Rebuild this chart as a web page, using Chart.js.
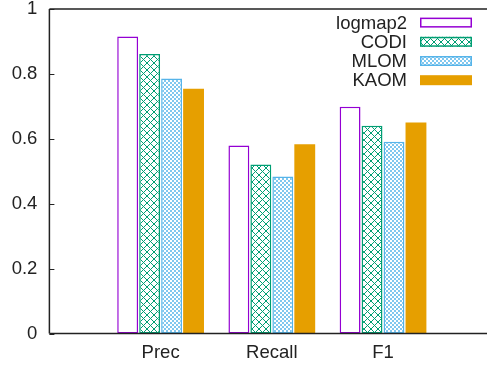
<!DOCTYPE html>
<html>
<head>
<meta charset="utf-8">
<script src="https://cdn.jsdelivr.net/npm/chart.js@4.4.1/dist/chart.umd.min.js"></script>
<style>
  html, body { margin: 0; padding: 0; background: #fff; }
  #wrap { width: 487px; height: 367px; }
</style>
</head>
<body>
<div id="wrap"><canvas id="chart" width="487" height="367"></canvas></div>
<script>
var categories = ['Prec', 'Recall', 'F1'];
var seriesNames = ['logmap2', 'CODI', 'MLOM', 'KAOM'];
var logmap2 = [0.915, 0.579, 0.699];
var codi = [0.861, 0.521, 0.640];
var mlom = [0.786, 0.484, 0.591];
var kaom = [0.754, 0.583, 0.650];
var yTicks = [0, 0.2, 0.4, 0.6, 0.8, 1];

var FONT = '"Liberation Sans", Arial, sans-serif';
var INK = '#222';

function $each(arr, fn) { for (var i = 0; i < arr.length; i++) fn(arr[i], i); }

function crossPattern(color) {
    var c = document.createElement('canvas');
    c.width = 7; c.height = 7;
    var g = c.getContext('2d');
    g.fillStyle = '#fff';
    g.fillRect(0, 0, 7, 7);
    g.strokeStyle = color;
    g.lineWidth = 1;
    g.beginPath();
    g.moveTo(0, 0); g.lineTo(7, 7);
    g.moveTo(7, 0); g.lineTo(0, 7);
    g.stroke();
    return g.createPattern(c, 'repeat');
}

function checkerPattern(color) {
    var c = document.createElement('canvas');
    c.width = 4; c.height = 4;
    var g = c.getContext('2d');
    g.fillStyle = '#fff';
    g.fillRect(0, 0, 4, 4);
    g.fillStyle = color;
    g.globalAlpha = 0.75;
    g.fillRect(0, 0, 2, 2);
    g.fillRect(2, 2, 2, 2);
    return g.createPattern(c, 'repeat');
}

function points(vals) {
    return vals.map(function(v, i) { return { x: i + 1, y: v }; });
}

// frame lines on top of the bars, inward y ticks and the key in the top right
var framePlugin = {
    id: 'frame',
    afterDraw: function(chart) {
        var ctx = chart.ctx, a = chart.chartArea, ys = chart.scales.y;
        ctx.save();
        ctx.strokeStyle = INK;
        ctx.lineWidth = 1.5;
        ctx.beginPath();
        ctx.moveTo(a.left, a.top);
        ctx.lineTo(a.right, a.top);
        ctx.moveTo(a.left, a.bottom);
        ctx.lineTo(a.right, a.bottom);
        ctx.moveTo(a.left, a.top);
        ctx.lineTo(a.left, a.bottom);
        ctx.stroke();
        ctx.lineWidth = 1;
        $each(yTicks, function(t) {
            var py = Math.round(ys.getPixelForValue(t)) + 0.5;
            ctx.beginPath();
            ctx.moveTo(a.left, py);
            ctx.lineTo(a.left + 5, py);
            ctx.stroke();
        });

        ctx.font = '18.5px ' + FONT;
        ctx.textAlign = 'right';
        ctx.textBaseline = 'middle';
        $each(chart.data.datasets, function(ds, i) {
            var cy = 22.6 + i * 19.2;
            ctx.fillStyle = INK;
            ctx.fillText(ds.label, 407, cy + 1);
            ctx.fillStyle = ds.backgroundColor;
            ctx.fillRect(420, cy - 5, 52, 10);
            if (ds.borderWidth > 0) {
                ctx.strokeStyle = ds.borderColor;
                ctx.lineWidth = ds.borderWidth;
                ctx.strokeRect(420.75, cy - 4.25, 50.5, 8.5);
            }
        });
        ctx.restore();
    }
};

var ctx = document.getElementById('chart').getContext('2d');
var colors = ['#9400D3', '#009E73', '#56B4E9', '#E69F00'];
var fills = ['#ffffff', crossPattern(colors[1]), checkerPattern(colors[2]), colors[3]];
var values = [logmap2, codi, mlom, kaom];

var datasets = seriesNames.map(function(name, i) {
    return {
        label: name,
        data: points(values[i]),
        backgroundColor: fills[i],
        borderColor: colors[i],
        borderWidth: i == 3 ? 0 : 1.5,
        borderSkipped: false,
        categoryPercentage: 0.79,
        barPercentage: 0.95
    };
});

var chart = new Chart(ctx, {
    type: 'bar',
    data: { datasets: datasets },
    plugins: [framePlugin],
    options: {
        responsive: false,
        animation: false,
        layout: { padding: 0 },
        plugins: {
            legend: { display: false },
            tooltip: { enabled: false }
        },
        scales: {
            x: {
                type: 'linear',
                offset: false,
                min: 0,
                max: 3.935,
                grid: { display: false, drawTicks: false },
                border: { display: false },
                afterBuildTicks: function(scale) {
                    scale.ticks = categories.map(function(c, i) { return { value: i + 1 }; });
                },
                afterFit: function(scale) {
                    scale.height = 33.5;
                    scale.paddingLeft = 0;
                    scale.paddingRight = 0;
                },
                ticks: {
                    padding: 8,
                    color: INK,
                    font: { family: FONT, size: 18.5 },
                    maxRotation: 0,
                    callback: function(v) { return categories[v - 1]; }
                }
            },
            y: {
                min: 0,
                max: 1,
                grid: { display: false, drawTicks: false },
                border: { display: false },
                afterBuildTicks: function(scale) {
                    scale.ticks = yTicks.map(function(t) { return { value: t }; });
                },
                afterFit: function(scale) {
                    scale.width = 49.4;
                    scale.paddingTop = 9;
                    scale.paddingBottom = 0;
                },
                ticks: {
                    padding: 12,
                    color: INK,
                    font: { family: FONT, size: 18.5, lineHeight: 1 },
                    callback: function(v) { return String(v); }
                }
            }
        }
    }
});
</script>
</body>
</html>
